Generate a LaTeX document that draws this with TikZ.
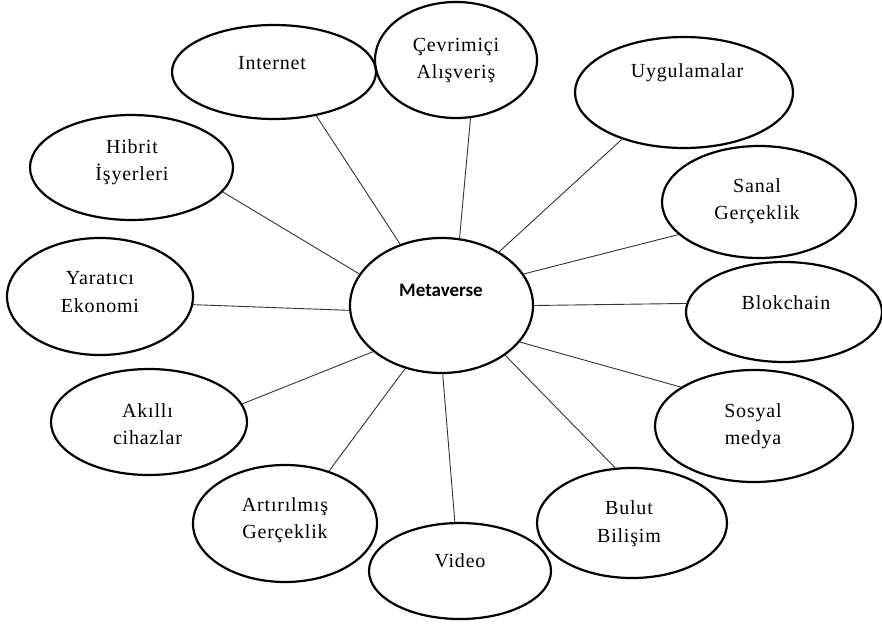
\documentclass[tikz,border=0pt]{standalone}
\usepackage{fontspec}
\setmainfont[LetterSpace=4]{Liberation Serif}
\newfontfamily\carlito{Carlito}
\usetikzlibrary{shapes.geometric}
\begin{document}
\begin{tikzpicture}[x=1pt,y=-1pt,
  ell/.style={draw=black, line width=2.2pt, ellipse, inner sep=0pt},
  txt/.style={font=\fontsize{20}{27.5}\selectfont, align=center, inner sep=0pt, text=black},
  conn/.style={draw=black!80, line width=0.9pt}]
\useasboundingbox (0,0) rectangle (882,624);
% ellipses
\node[ell, minimum width=183pt, minimum height=135pt] (met) at (441.5,305.5) {};
\node[ell, minimum width=204pt, minimum height=94pt]  (int) at (274,72) {};
\node[ell, minimum width=162pt, minimum height=116pt] (cev) at (456,60) {};
\node[ell, minimum width=218pt, minimum height=111pt] (uyg) at (684,92.5) {};
\node[ell, minimum width=194pt, minimum height=112pt] (san) at (759,202) {};
\node[ell, minimum width=196pt, minimum height=100pt] (blo) at (784,312) {};
\node[ell, minimum width=198pt, minimum height=112pt] (sos) at (754,426) {};
\node[ell, minimum width=190pt, minimum height=110pt] (bul) at (632,523) {};
\node[ell, minimum width=182pt, minimum height=96pt]  (vid) at (460,571) {};
\node[ell, minimum width=184pt, minimum height=117pt] (art) at (285,523.5) {};
\node[ell, minimum width=196pt, minimum height=106pt] (aki) at (149,422) {};
\node[ell, minimum width=186pt, minimum height=117pt] (yar) at (100,296.5) {};
\node[ell, minimum width=203pt, minimum height=105pt] (hib) at (131.5,167.5) {};
% texts
\node[inner sep=0pt, font=\carlito\bfseries\fontsize{19}{23}\selectfont] (tmet) at (441,290) {Metaverse};
\node[txt] (tint) at (272,63) {Internet};
\node[txt] (tcev) at (456,60.5) {Çevrimiçi\\Alışveriş};
\node[txt] (tuyg) at (687,73) {Uygulamalar};
\node[txt] (tsan) at (757,201) {Sanal\\Gerçeklik};
\node[txt] (tblo) at (786,303) {Blokchain};
\node[txt] (tsos) at (753,426) {Sosyal\\medya};
\node[txt] (tbul) at (629,523.5) {Bulut\\Bilişim};
\node[txt] (tvid) at (460,561) {Video};
\node[txt] (tart) at (285,520) {Artırılmış\\Gerçeklik};
\node[txt] (taki) at (147.5,424) {Akıllı\\cihazlar};
\node[txt] (tyar) at (100,292) {Yaratıcı\\Ekonomi};
\node[txt] (thib) at (132,162) {Hibrit\\İşyerleri};
% connectors
\draw[conn] (met.124.8) -- (int.-46.2);
\draw[conn] (met.75.6) -- (cev.-76.4);
\draw[conn] (met.43.5) -- (uyg.-143.7);
\draw[conn] (met.21.3) -- (san.-158);
\draw[conn] (met.0) -- (blo.175.5);
\draw[conn] (met.-25.8) -- (sos.152.1);
\draw[conn] (met.-38.1) -- (bul.107.8);
\draw[conn] (met.-89.6) -- (vid.96.5);
\draw[conn] (met.-120.8) -- (art.50.3);
\draw[conn] (met.-146.2) -- (aki.11.4);
\draw[conn] (met.-177.3) -- (yar.-5.3);
\draw[conn] (met.159.5) -- (hib.-15.6);
\end{tikzpicture}
\end{document}
